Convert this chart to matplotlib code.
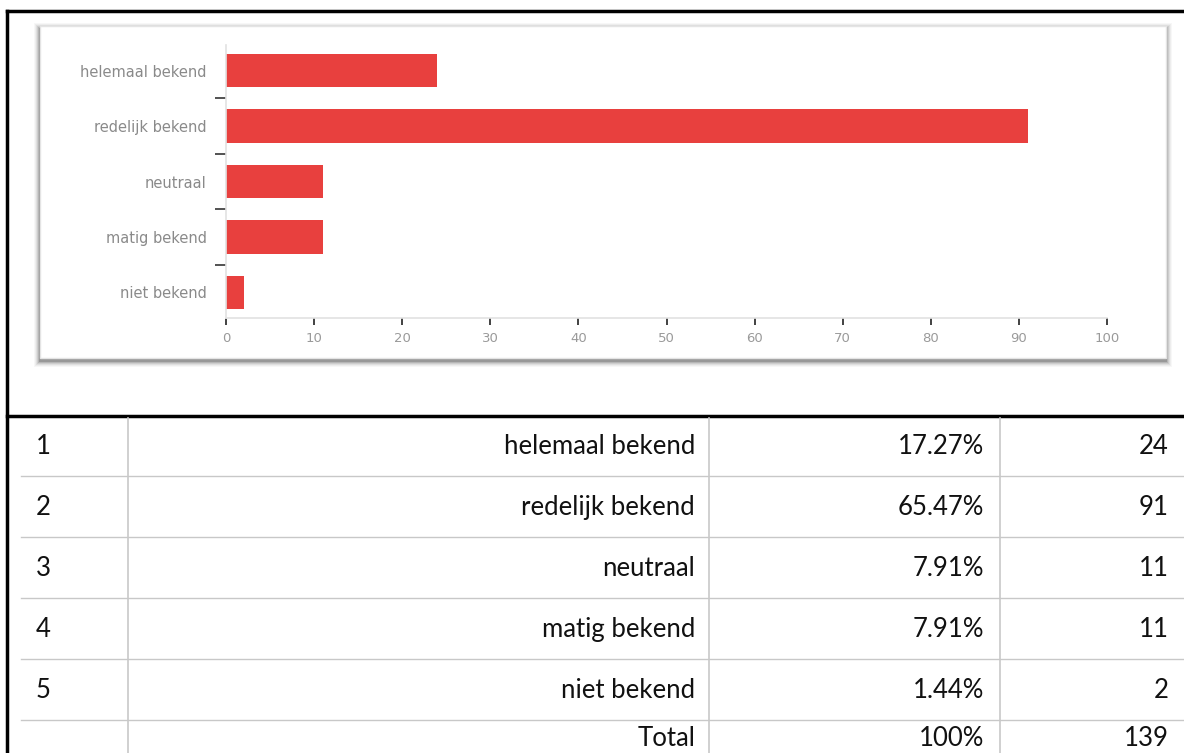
import matplotlib.pyplot as plt
from matplotlib.patches import Rectangle

# survey answers
categories = ['helemaal bekend', 'redelijk bekend', 'neutraal', 'matig bekend', 'niet bekend']
counts = [24, 91, 11, 11, 2]
percents = ['17.27%', '65.47%', '7.91%', '7.91%', '1.44%']
row_ids = ['1', '2', '3', '4', '5']
total_label = 'Total'
total_percent = '100%'
total_count = 139
x_ticks = list(range(0, 101, 10))

W, H = 1184, 753
fig = plt.figure(figsize=(W / 100, H / 100), dpi=100)

# page layer, pixel coordinates (y down)
page = fig.add_axes([0, 0, 1, 1])
page.set_xlim(0, W)
page.set_ylim(H, 0)
page.axis('off')

# card with soft drop shadow
cx, cy, cw, ch = 40, 26, 1126, 332
for s, a in [(6, 0.03), (5, 0.04), (4, 0.06), (3, 0.08), (2, 0.11), (1, 0.16)]:
    page.add_patch(Rectangle((cx - s, cy - s + 3), cw + 2 * s, ch + 2 * s,
                             facecolor='black', alpha=a, lw=0))
page.add_patch(Rectangle((cx, cy), cw, ch, facecolor='white',
                         edgecolor='#e4e4e4', lw=1))

# outer black frame
page.plot([7, 7], [11, H], color='black', lw=2.5, solid_capstyle='projecting')
page.plot([7, W], [11, 11], color='black', lw=2.5, solid_capstyle='projecting')
page.plot([7, W], [416, 416], color='black', lw=2.5)

# table grid
grid = '#c8c8c8'
for y in [476, 537, 598, 659, 720]:
    page.plot([21, W], [y, y], color=grid, lw=1)
for x in [128, 709, 1000]:
    page.plot([x, x], [418, H], color=grid, lw=1.2)

# table text
tfont = dict(family='Lato', fontsize=18.5, color='#111111', va='center')
for i, (rid, cat, pct, n) in enumerate(zip(row_ids, categories, percents, counts)):
    y = 446 + 61.2 * i
    page.text(36, y, rid, ha='left', **tfont)
    page.text(695, y, cat, ha='right', **tfont)
    page.text(984, y, pct, ha='right', **tfont)
    page.text(1169, y, str(n), ha='right', **tfont)
page.text(695, 738, total_label, ha='right', **tfont)
page.text(984, 738, total_percent, ha='right', **tfont)
page.text(1169, 738, str(total_count), ha='right', **tfont)

# bar chart
ax = fig.add_axes([226 / W, 1 - 318 / H, 881 / W, 273 / H])
ax.set_facecolor('none')
ax.barh(range(len(categories)), counts, height=0.6, color='#e8403e')
ax.set_xlim(0, 100)
ax.set_ylim(len(categories) - 0.54, -0.46)

for side in ['top', 'right']:
    ax.spines[side].set_visible(False)
for side in ['left', 'bottom']:
    ax.spines[side].set_color('#e2e2e2')
    ax.spines[side].set_linewidth(1.2)

ax.set_yticks(range(len(categories)), categories)
ax.tick_params(axis='y', which='major', length=0, pad=14,
               labelsize=10.5, labelcolor='#8a8a8a')
ax.set_yticks([i + 0.5 for i in range(len(categories) - 1)], minor=True)
ax.tick_params(axis='y', which='minor', length=8, width=1.3, color='#444444')

ax.set_xticks(x_ticks)
ax.tick_params(axis='x', length=5, width=1.3, color='#333333', pad=5,
               labelsize=9.5, labelcolor='#9a9a9a')

fig.savefig('out.png', dpi=100, facecolor='white')
